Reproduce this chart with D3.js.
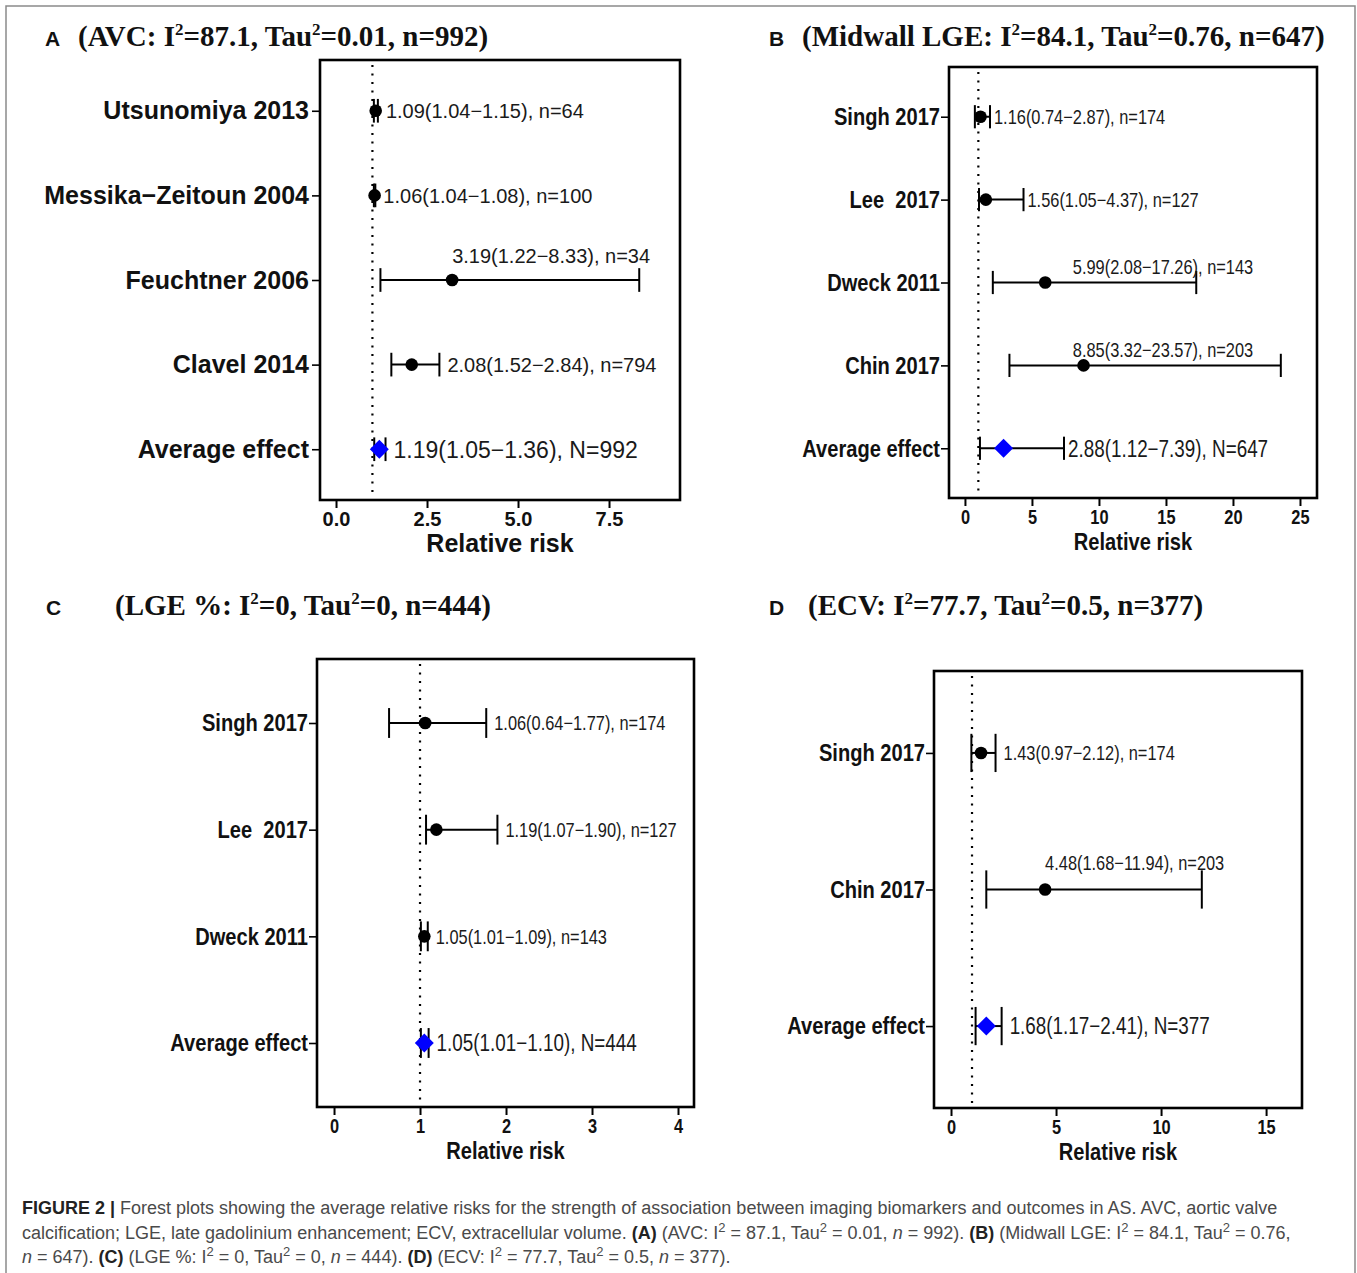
<!DOCTYPE html>
<html><head><meta charset="utf-8">
<script src="https://cdn.jsdelivr.net/npm/d3@7"></script>
<style>body{margin:0;background:#fff} svg{display:block} text{white-space:pre}</style>
</head><body><svg id="c" width="1357" height="1273"></svg>
<script>
// ---------------- DATA ----------------
const A_title = "(AVC: I{2}=87.1, Tau{2}=0.01, n=992)";
const A_studies = ["Utsunomiya 2013","Messika\u2212Zeitoun 2004","Feuchtner 2006","Clavel 2014","Average effect"];
const A_est = [1.09, 1.06, 3.19, 2.08, 1.19];
const A_lo  = [1.04, 1.04, 1.22, 1.52, 1.05];
const A_hi  = [1.15, 1.08, 8.33, 2.84, 1.36];
const A_labels = ["1.09(1.04\u22121.15), n=64","1.06(1.04\u22121.08), n=100","3.19(1.22\u22128.33), n=34","2.08(1.52\u22122.84), n=794","1.19(1.05\u22121.36), N=992"];
const A_above = [false,false,true,false,false];
const A_labelAt = [null,null,3.19,null,null];
const A_ticks = [0,2.5,5,7.5];
const A_tickLabels = ["0.0","2.5","5.0","7.5"];

const B_title = "(Midwall LGE: I{2}=84.1, Tau{2}=0.76, n=647)";
const B_studies = ["Singh 2017","Lee  2017","Dweck 2011","Chin 2017","Average effect"];
const B_est = [1.16, 1.56, 5.99, 8.85, 2.88];
const B_lo  = [0.74, 1.05, 2.08, 3.32, 1.12];
const B_hi  = [1.87, 4.37, 17.26, 23.57, 7.39];
const B_labels = ["1.16(0.74\u22122.87), n=174","1.56(1.05\u22124.37), n=127","5.99(2.08\u221217.26), n=143","8.85(3.32\u221223.57), n=203","2.88(1.12\u22127.39), N=647"];
const B_above = [false,false,true,true,false];
const B_labelAt = [null,null,8.05,8.05,null];
const B_ticks = [0,5,10,15,20,25];
const B_tickLabels = ["0","5","10","15","20","25"];

const C_title = "(LGE %: I{2}=0, Tau{2}=0, n=444)";
const C_studies = ["Singh 2017","Lee  2017","Dweck 2011","Average effect"];
const C_est = [1.06, 1.19, 1.05, 1.05];
const C_lo  = [0.64, 1.07, 1.01, 1.01];
const C_hi  = [1.77, 1.90, 1.09, 1.10];
const C_labels = ["1.06(0.64\u22121.77), n=174","1.19(1.07\u22121.90), n=127","1.05(1.01\u22121.09), n=143","1.05(1.01\u22121.10), N=444"];
const C_above = [false,false,false,false];
const C_labelAt = [null,null,null,null];
const C_ticks = [0,1,2,3,4];
const C_tickLabels = ["0","1","2","3","4"];

const D_title = "(ECV: I{2}=77.7, Tau{2}=0.5, n=377)";
const D_studies = ["Singh 2017","Chin 2017","Average effect"];
const D_est = [1.43, 4.48, 1.68];
const D_lo  = [0.97, 1.68, 1.17];
const D_hi  = [2.12, 11.94, 2.41];
const D_labels = ["1.43(0.97\u22122.12), n=174","4.48(1.68\u221211.94), n=203","1.68(1.17\u22122.41), N=377"];
const D_above = [false,true,false];
const D_labelAt = [null,4.48,null];
const D_ticks = [0,5,10,15];
const D_tickLabels = ["0","5","10","15"];

const captionLines = [
 "**FIGURE 2 |** Forest plots showing the average relative risks for the strength of association between imaging biomarkers and outcomes in AS. AVC, aortic valve",
 "calcification; LGE, late gadolinium enhancement; ECV, extracellular volume. **(A)** (AVC: I^2^ = 87.1, Tau^2^ = 0.01, _n_ = 992). **(B)** (Midwall LGE: I^2^ = 84.1, Tau^2^ = 0.76,",
 "_n_ = 647). **(C)** (LGE %: I^2^ = 0, Tau^2^ = 0, _n_ = 444). **(D)** (ECV: I^2^ = 77.7, Tau^2^ = 0.5, _n_ = 377)."
];

// ---------------- LAYOUT ----------------
const SANS = "Liberation Sans, Arial, Helvetica, sans-serif";
const SERIF = "Liberation Serif, Times New Roman, serif";
const panels = [
 {letter:"A", title:A_title, studies:A_studies, est:A_est, lo:A_lo, hi:A_hi, labels:A_labels, above:A_above, labelAt:A_labelAt,
  ticks:A_ticks, tickLabels:A_tickLabels, domain:[-0.44,9.45], box:{l:320,r:680,t:60,b:500}, sx:1,
  ylabSize:25, labOff:8, aboveOff:24, letterX:45, titleX:78, titleY:46},
 {letter:"B", title:B_title, studies:B_studies, est:B_est, lo:B_lo, hi:B_hi, labels:B_labels, above:B_above, labelAt:B_labelAt,
  ticks:B_ticks, tickLabels:B_tickLabels, domain:[-1.19,26.27], box:{l:949,r:1317,t:67,b:498}, sx:0.82,
  ylabSize:24.5, labOff:4, aboveOff:16, letterX:769, titleX:802, titleY:46},
 {letter:"C", title:C_title, studies:C_studies, est:C_est, lo:C_lo, hi:C_hi, labels:C_labels, above:C_above, labelAt:C_labelAt,
  ticks:C_ticks, tickLabels:C_tickLabels, domain:[-0.198,4.186], box:{l:317,r:694,t:659,b:1107}, sx:0.82,
  ylabSize:24.5, labOff:8, aboveOff:20, letterX:46, titleX:115, titleY:615},
 {letter:"D", title:D_title, studies:D_studies, est:D_est, lo:D_lo, hi:D_hi, labels:D_labels, above:D_above, labelAt:D_labelAt,
  ticks:D_ticks, tickLabels:D_tickLabels, domain:[-0.81,16.71], box:{l:934,r:1302,t:671,b:1108}, sx:0.82,
  ylabSize:24.5, labOff:8, aboveOff:27, letterX:769, titleX:808, titleY:615}
];

const svg = d3.select("#c");

// outer frame
svg.append("path").attr("d","M6,1273 V6 H1355 V1273").attr("fill","none").attr("stroke","#8a8a8a").attr("stroke-width",1.5);

function drawTitle(p){
  svg.append("text").attr("x",p.letterX).attr("y",p.titleY).attr("font-family",SANS).attr("font-weight","bold")
    .attr("font-size",21).attr("fill","#111").text(p.letter);
  const t = svg.append("text").attr("x",p.titleX).attr("y",p.titleY).attr("font-family",SERIF).attr("font-weight","bold")
    .attr("font-size",29).attr("fill","#111");
  const parts = p.title.split(/(\{[^}]+\})/).filter(s=>s.length);
  let up = false;
  parts.forEach(s=>{
    if(s[0]==="{"){ t.append("tspan").attr("dy",-11).attr("font-size",17).text(s.slice(1,-1)); up=true; }
    else { const ts=t.append("tspan").text(s); if(up){ts.attr("dy",11); up=false;} }
  });
}

function drawPanel(p){
  const g = svg.append("g");
  const x = d3.scaleLinear().domain(p.domain).range([p.box.l,p.box.r]);
  const y = d3.scalePoint().domain(p.studies).range([p.box.t,p.box.b]).padding(0.6);
  const capH = 0.14*y.step();

  // dotted reference line at RR = 1
  g.append("line").attr("x1",x(1)).attr("x2",x(1)).attr("y1",p.box.t+5).attr("y2",p.box.b-5)
    .attr("stroke","#000").attr("stroke-width",2.2).attr("stroke-dasharray","2,6.5");

  // axes
  const xa = d3.axisBottom(x).tickValues(p.ticks).tickFormat((d,i)=>p.tickLabels[i]).tickSize(8).tickPadding(4);
  const gx = g.append("g").attr("transform",`translate(0,${p.box.b})`).call(xa);
  gx.select(".domain").remove();
  gx.selectAll(".tick line").attr("stroke","#000").attr("stroke-width",2);
  gx.selectAll(".tick text").attr("font-family",SANS).attr("font-weight","bold").attr("font-size",20).attr("fill","#111")
    .attr("transform",`scale(${p.sx},1)`);

  const ya = d3.axisLeft(y).tickSize(8).tickPadding(3);
  const gy = g.append("g").attr("transform",`translate(${p.box.l},0)`).call(ya);
  gy.select(".domain").remove();
  gy.selectAll(".tick line").attr("stroke","#000").attr("stroke-width",1.6);
  gy.selectAll(".tick text").attr("font-family",SANS).attr("font-weight","bold").attr("font-size",p.ylabSize).attr("fill","#111")
    .attr("transform",`scale(${p.sx},1)`);

  // box
  g.append("rect").attr("x",p.box.l).attr("y",p.box.t).attr("width",p.box.r-p.box.l).attr("height",p.box.b-p.box.t)
    .attr("fill","none").attr("stroke","#000").attr("stroke-width",2.6);

  // axis title
  g.append("text").attr("x",(p.box.l+p.box.r)/2).attr("y",p.box.b+52).attr("text-anchor","middle")
    .attr("font-family",SANS).attr("font-weight","bold").attr("font-size",p.sx===1?25:24.5).attr("fill","#111")
    .attr("transform",`translate(${(p.box.l+p.box.r)/2*(1-p.sx)},0) scale(${p.sx},1)`).text("Relative risk");

  const n = p.studies.length;
  p.studies.forEach((s,i)=>{
    const yy = y(s);
    const last = i===n-1;
    g.append("line").attr("x1",x(p.lo[i])).attr("x2",x(p.hi[i])).attr("y1",yy).attr("y2",yy).attr("stroke","#000").attr("stroke-width",2);
    [p.lo[i],p.hi[i]].forEach(v=>{
      g.append("line").attr("x1",x(v)).attr("x2",x(v)).attr("y1",yy-capH).attr("y2",yy+capH).attr("stroke","#000").attr("stroke-width",2);
    });
    if(last){
      const cx=x(p.est[i]), r=9.5;
      g.append("path").attr("d",`M${cx-r},${yy} L${cx},${yy-r} L${cx+r},${yy} L${cx},${yy+r} Z`).attr("fill","#0000ff");
    } else {
      g.append("circle").attr("cx",x(p.est[i])).attr("cy",yy).attr("r",6.3).attr("fill","#000");
    }
    // value label
    let lx, ly;
    if(p.above[i]){ lx = x(p.labelAt[i]); ly = yy - p.aboveOff; }
    else { lx = x(p.hi[i]) + p.labOff; ly = yy; }
    g.append("text").attr("transform",`translate(${lx},${ly}) scale(${p.sx},1)`).attr("dy","0.36em")
      .attr("font-family",SANS).attr("font-size",last?23:20).attr("fill","#1a1a1a").text(p.labels[i]);
  });
}

panels.forEach(p=>{ drawTitle(p); drawPanel(p); });

// caption
const capY = [1214,1239,1263];
captionLines.forEach((line,li)=>{
  const t = svg.append("text").attr("x",22).attr("y",capY[li]).attr("font-family",SANS).attr("font-size",18).attr("fill","#4a4a4a");
  const parts = line.split(/(\*\*[^*]+\*\*|_[^_]+_|\^[^^]+\^)/).filter(s=>s.length);
  let up=false;
  parts.forEach(s=>{
    let ts;
    if(s.startsWith("**")){ ts=t.append("tspan").attr("font-weight","bold").attr("fill","#222").text(s.slice(2,-2)); }
    else if(s.startsWith("_")){ ts=t.append("tspan").attr("font-style","italic").text(s.slice(1,-1)); }
    else if(s.startsWith("^")){ ts=t.append("tspan").attr("font-size",13).attr("dy",-7).text(s.slice(1,-1)); up=true; return; }
    else { ts=t.append("tspan").text(s); }
    if(up){ ts.attr("dy",7); up=false; }
  });
});
</script>
</body></html>
